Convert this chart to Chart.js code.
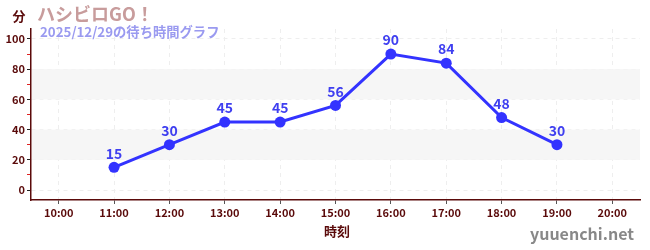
<!DOCTYPE html>
<html>
<head>
<meta charset="utf-8">
<script src="https://cdn.jsdelivr.net/npm/chart.js@4"></script>
<style>
  html, body { margin: 0; padding: 0; background: #fff; }
  #wrap { width: 650px; height: 250px; }
</style>
</head>
<body>
<div id="wrap"><canvas id="waitChart" width="650" height="250"></canvas></div>
<script>
// chart data
const hours = ['10:00', '11:00', '12:00', '13:00', '14:00', '15:00', '16:00', '17:00', '18:00', '19:00', '20:00'];
const waitMinutes = [null, 15, 30, 45, 45, 56, 90, 84, 48, 30, null];
const yTicks = [0, 10, 20, 30, 40, 50, 60, 70, 80, 90, 100];
const bands = [[20, 40], [60, 80]];

const FONT = '"Noto Sans CJK JP", "Noto Sans", sans-serif';
const DARK = '#5a0a0a';
const BLUE = '#3333ff';

// shaded bands behind the plot
const bandPlugin = {
    id: 'bands',
    beforeDatasetsDraw(chart) {
        const { ctx, chartArea, scales } = chart;
        ctx.save();
        ctx.fillStyle = '#f6f6f6';
        bands.forEach(b => {
            const y1 = scales.y.getPixelForValue(b[1]);
            const y0 = scales.y.getPixelForValue(b[0]);
            ctx.fillRect(chartArea.left + 1, y1, chartArea.right - chartArea.left - 1, y0 - y1);
        });
        ctx.restore();
    }
};

// value labels, titles and footer text
const textPlugin = {
    id: 'texts',
    afterDatasetsDraw(chart) {
        const ctx = chart.ctx;
        const meta = chart.getDatasetMeta(0);
        ctx.save();
        ctx.textAlign = 'center';
        ctx.textBaseline = 'middle';
        ctx.font = 'bold 14px ' + FONT;
        ctx.fillStyle = '#3f3ff0';
        meta.data.forEach((pt, i) => {
            const v = waitMinutes[i];
            if (v === null) return;
            ctx.fillText(String(v), pt.x, pt.y - 14);
        });
        ctx.restore();
    },
    afterDraw(chart) {
        const ctx = chart.ctx;
        ctx.save();
        ctx.textBaseline = 'middle';
        ctx.textAlign = 'center';
        ctx.font = 'bold 13px ' + FONT;
        ctx.fillStyle = DARK;
        ctx.fillText('分', 19, 16);

        ctx.textAlign = 'left';
        ctx.font = 'bold 18px ' + FONT;
        ctx.fillStyle = '#c89c9c';
        ctx.fillText('ハシビロGO！', 37, 14);

        ctx.font = 'bold 13.3px ' + FONT;
        ctx.fillStyle = '#9a9af0';
        ctx.fillText('2025/12/29の待ち時間グラフ', 40, 32);

        ctx.textAlign = 'center';
        ctx.font = 'bold 13px ' + FONT;
        ctx.fillStyle = DARK;
        ctx.fillText('時刻', 337, 231);

        ctx.textAlign = 'right';
        ctx.font = 'bold 16px ' + FONT;
        ctx.fillStyle = '#888888';
        ctx.fillText('yuuenchi.net', 634, 234);
        ctx.restore();
    }
};

const ctx = document.getElementById('waitChart').getContext('2d');
new Chart(ctx, {
    type: 'line',
    data: {
        labels: hours,
        datasets: [{
            data: waitMinutes,
            borderColor: BLUE,
            backgroundColor: BLUE,
            borderWidth: 3,
            pointRadius: 5.5,
            pointBackgroundColor: BLUE,
            pointBorderWidth: 0,
            tension: 0,
            spanGaps: false
        }]
    },
    options: {
        responsive: false,
        animation: false,
        devicePixelRatio: 1,
        layout: { padding: { left: 0, right: 10, top: 29, bottom: 0 } },
        plugins: {
            legend: { display: false },
            tooltip: { enabled: false }
        },
        scales: {
            x: {
                offset: true,
                grid: {
                    color: '#eeeeee',
                    offset: false,
                    tickColor: '#555555',
                    tickLength: 4
                },
                border: { color: DARK, width: 1.5, dash: [4, 4] },
                ticks: {
                    color: DARK,
                    font: { family: FONT, size: 11, weight: 'bold' },
                    padding: 2,
                    maxRotation: 0
                },
                afterFit(scale) { scale.height = 50; }
            },
            y: {
                min: -6.6,
                max: 106.6,
                afterBuildTicks(scale) {
                    scale.ticks = yTicks.map(v => ({ value: v }));
                },
                grid: {
                    color: c => (c.tick && c.tick.value % 20 === 0) ? '#eeeeee' : 'rgba(0,0,0,0)',
                    tickColor: c => (c.tick && c.tick.value % 20 === 0) ? '#222222' : '#dd2222',
                    tickLength: 4
                },
                border: { color: DARK, width: 1.5, dash: [4, 4] },
                ticks: {
                    color: DARK,
                    font: { family: FONT, size: 11, weight: 'bold' },
                    padding: 2,
                    callback: v => (v % 20 === 0 ? v : '')
                },
                afterFit(scale) { scale.width = 31; }
            }
        }
    },
    plugins: [bandPlugin, textPlugin]
});
</script>
</body>
</html>
